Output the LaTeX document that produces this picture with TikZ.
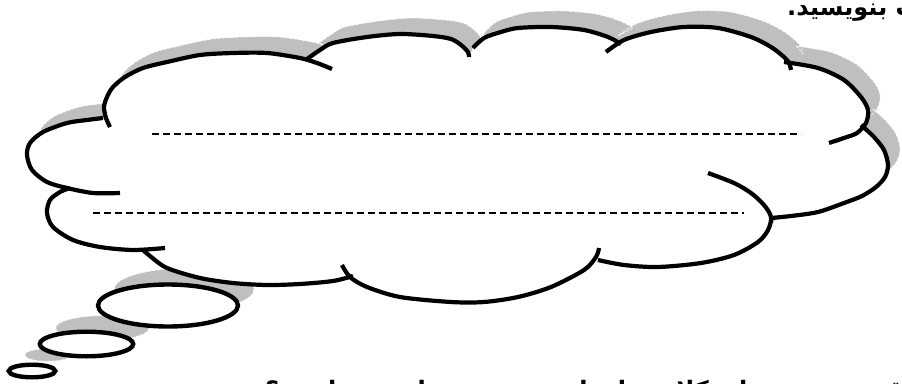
\documentclass[tikz,border=0pt]{standalone}
\usepackage{fontspec}
\newfontfamily\fa[Script=Arabic]{DejaVu Sans}
\TeXXeTstate=1
\definecolor{shadowc}{gray}{0.75}
\begin{document}
\begin{tikzpicture}[x=1pt,y=-1pt,
  outline/.style={line width=4.2pt, black},
  shadowfill/.style={fill=shadowc, draw=white, line width=0.6pt, dash pattern=on 3pt off 1.5pt},
  dashline/.style={line width=1.7pt, dash pattern=on 7pt off 4pt},
  bubble/.style={line width=4.4pt, draw=black, fill=white},
  txt/.style={font=\fa\bfseries\fontsize{24}{28}\selectfont, inner sep=0pt}]
\useasboundingbox (0,0) rectangle (902,383);
\def\LA{plot[smooth] coordinates {(120,193) (93,193) (67,188) (47,182) (32,170) (27,155) (30,143) (43,132) (67,123) (87,120) (103,118)}}
\def\LB{plot[smooth] coordinates {(110,127) (106,118) (104,107) (107,97) (113,87) (125,77) (143,68) (167,62) (200,55) (233,53) (267,53) (300,58) (317,63) (332,69)}}
\def\LC{plot[smooth] coordinates {(307,59) (320,50) (333,43) (367,37) (400,34) (433,36) (451,39) (461,45) (468,52) (469,57)}}
\def\LD{plot[smooth] coordinates {(473,48) (484,38) (501,32) (518,28) (551,27) (584,30) (608,37) (621,44)}}
\def\LE{plot[smooth] coordinates {(606,52) (624,40) (651,32) (684,27) (718,28) (751,37) (771,47) (784,57) (789,63) (791,70)}}
\def\LF{plot[smooth] coordinates {(784,62) (818,68) (844,80) (861,97) (868,110) (866,123) (857,133) (844,138) (829,143)}}
\def\LG{plot[smooth] coordinates {(861,125) (874,137) (884,150) (888,165) (885,177) (876,187) (862,196) (844,203) (818,212) (791,216) (771,218)}}
\def\LH{plot[smooth] coordinates {(708,173) (734,183) (751,193) (764,205) (771,217) (768,230) (758,242) (734,255) (701,263) (658,267) (624,265) (598,260)}}
\def\LI{plot[smooth] coordinates {(599,248) (596,257) (584,270) (551,287) (518,297) (484,302) (451,302) (400,297) (367,287) (350,277) (342,265)}}
\def\LJ{plot[smooth] coordinates {(353,276) (333,281) (300,284) (267,285) (233,283) (200,278) (167,268) (150,256) (143,250)}}
\def\LK{plot[smooth] coordinates {(165,248) (133,250) (100,247) (73,240) (53,227) (47,213) (50,200) (60,192) (70,188)}}
\edef\cloud{\LA -- \LB -- \LC -- \LD -- \LE -- \LF -- \LG -- \LH -- \LI -- \LJ -- \LK -- cycle}
% shadows
\path[shadowfill, shift={(16,-16)}] (168,305.5) ellipse [x radius=70, y radius=21];
\path[shadowfill, shift={(16,-16)}] (86.5,344) ellipse [x radius=46.7, y radius=12.3];
\path[shadowfill, shift={(16,-16)}] (32,371) ellipse [x radius=23.3, y radius=6.3];
\path[shadowfill, shift={(12,-16)}] \cloud;
% cloud body
\path[fill=white] \cloud;
\draw[outline] \LA; \draw[outline] \LB; \draw[outline] \LC; \draw[outline] \LD;
\draw[outline] \LE; \draw[outline] \LF; \draw[outline] \LG; \draw[outline] \LH;
\draw[outline] \LI; \draw[outline] \LJ; \draw[outline] \LK;
% bubbles
\draw[bubble] (168,305.5) ellipse [x radius=70, y radius=21];
\draw[bubble] (86.5,344) ellipse [x radius=46.7, y radius=12.3];
\draw[bubble] (32,371) ellipse [x radius=23.3, y radius=6.3];
% writing lines
\coordinate (l1a) at (152,134); \coordinate (l1b) at (801,134);
\coordinate (l2a) at (93,213); \coordinate (l2b) at (744,213);
\draw[dashline] (l1a) -- (l1b);
\draw[dashline] (l2a) -- (l2b);
% texts
\node[txt, anchor=base west] (toptext) at (787,15) {\beginR پاسخ مناسب بنویسید.\endR};
\node[txt, anchor=base west] (bottomtext) at (265,398) {\beginR کدام تقسیم‌بندی برای کلاس‌های این مدرسه مناسب‌تر است؟\endR};
\end{tikzpicture}
\end{document}
